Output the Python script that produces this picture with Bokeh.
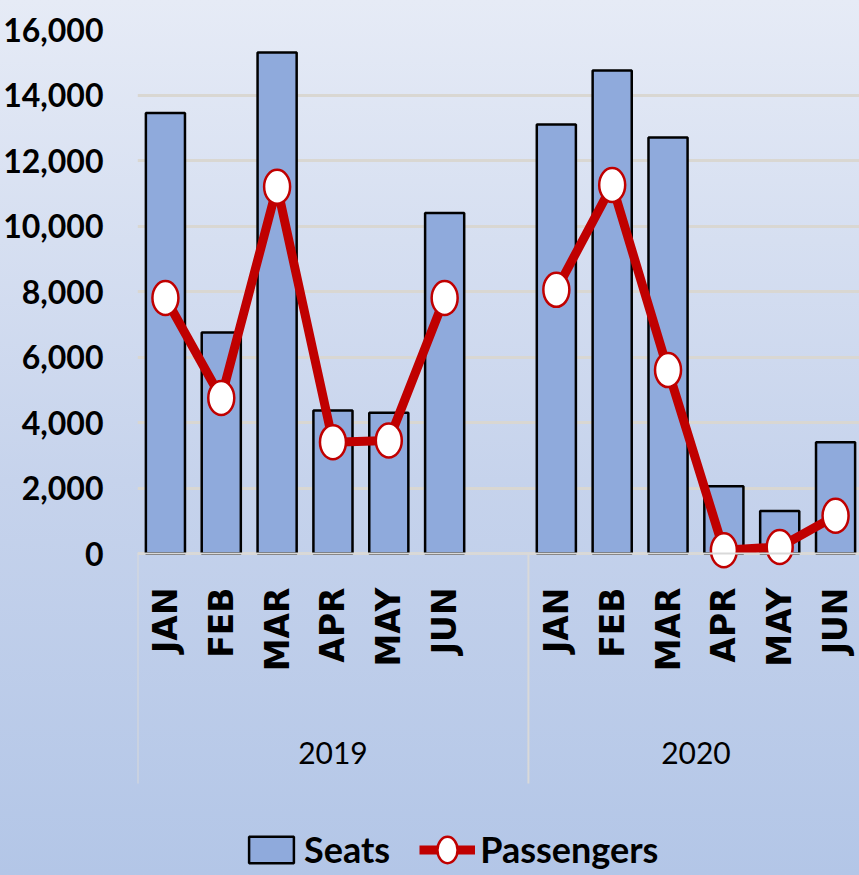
from math import pi
from bokeh.plotting import figure
from bokeh.models import (Range1d, LinearAxis, FixedTicker, NumeralTickFormatter,
                          Legend, LegendItem, Grid)
from bokeh.embed import file_html
from bokeh.resources import INLINE

# ---------------- data ----------------
years = ["2019", "2020"]
months = ["JAN", "FEB", "MAR", "APR", "MAY", "JUN"]
seats_2019 = [13450, 6750, 15300, 4370, 4300, 10400]
seats_2020 = [13100, 14750, 12700, 2050, 1300, 3400]
pax_2019 = [7800, 4750, 11200, 3400, 3450, 7800]
pax_2020 = [8050, 11250, 5600, 100, 200, 1150]
y_ticks = [0, 2000, 4000, 6000, 8000, 10000, 12000, 14000, 16000]

# ---------------- layout ----------------
W, H = 859, 875
FRAME_LEFT, FRAME_TOP, ZERO_PX, BOTTOM_PX = 135, 29, 553, H
SLOT_PX = 56.0
px_per_unit = (ZERO_PX - FRAME_TOP) / y_ticks[-1]


def y_at(pix):
    return (ZERO_PX - pix) / px_per_unit


slots_2019 = len(months) + 1          # blank slot after JUN 2019
x2019 = list(range(len(months)))
x2020 = [slots_2019 + i for i in range(len(months))]
xs = x2019 + x2020
group_edges = [-0.5, slots_2019 - 0.5, slots_2019 + len(months) - 0.5]
group_centers = [(group_edges[0] + group_edges[1]) / 2, (group_edges[1] + group_edges[2]) / 2]

x_end = -0.5 + (W - FRAME_LEFT) / SLOT_PX
p = figure(width=W, height=H, x_range=Range1d(-0.5, x_end),
           y_range=Range1d(y_at(BOTTOM_PX), y_ticks[-1]),
           x_axis_type=None, y_axis_type=None,
           toolbar_location=None, output_backend="svg",
           min_border_left=FRAME_LEFT, min_border_top=FRAME_TOP,
           min_border_bottom=0, min_border_right=0,
           styles={"background": "linear-gradient(to bottom, #E6EBF6 0%, #C6D3EC 55%, #B3C6E7 100%)"})
p.background_fill_alpha = 0
p.border_fill_alpha = 0
p.outline_line_color = None

LABEL_FONT = "Lato"

# y axis
yaxis = LinearAxis(ticker=FixedTicker(ticks=y_ticks),
                   formatter=NumeralTickFormatter(format="0,0"))
yaxis.axis_line_color = None
yaxis.major_tick_line_color = None
yaxis.minor_tick_line_color = None
yaxis.major_label_standoff = 28
yaxis.major_label_text_font = LABEL_FONT
yaxis.major_label_text_font_style = "bold"
yaxis.major_label_text_font_size = "32px"
yaxis.major_label_text_color = "black"
p.add_layout(yaxis, "left")

grid = Grid(dimension=1, ticker=FixedTicker(ticks=y_ticks),
            grid_line_color="#D9D7D2", grid_line_width=3)
p.add_layout(grid)

# category dividers
p.segment(x0=group_edges, x1=group_edges, y0=[0] * 3, y1=[y_at(783)] * 3,
          line_color="#D9D9D9", line_width=2)

# bars
bars = p.vbar(x=xs, top=seats_2019 + seats_2020, width=0.7, bottom=0,
              fill_color="#8FAADC", line_color="black", line_width=2.5)

# passengers lines + markers
lines = []
for xx, yy in ((x2019, pax_2019), (x2020, pax_2020)):
    lines.append(p.line(x=xx, y=yy, line_color="#C00000", line_width=9, line_join="round"))
marks = p.ellipse(x=xs, y=pax_2019 + pax_2020, width=26, height=34,
                  width_units="screen", height_units="screen",
                  fill_color="white", line_color="#C00000", line_width=2.5)

# month axis at y = 0
maxis = LinearAxis(fixed_location=0, ticker=FixedTicker(ticks=xs),
                   major_label_overrides={x: m for x, m in zip(xs, months + months)})
maxis.axis_line_color = "#D9D9D9"
maxis.axis_line_width = 2
maxis.major_tick_line_color = None
maxis.minor_tick_line_color = None
maxis.major_tick_out = 0
maxis.major_label_standoff = 34
maxis.major_label_orientation = pi / 2
maxis.major_label_text_font = "DejaVu Sans"
maxis.major_label_text_font_style = "bold"
maxis.major_label_text_font_size = "33px"
maxis.major_label_text_color = "black"
p.add_layout(maxis, "below")

# year axis
yrs = LinearAxis(fixed_location=y_at(741), ticker=FixedTicker(ticks=group_centers),
                 major_label_overrides={c: y for c, y in zip(group_centers, years)})
yrs.axis_line_color = None
yrs.major_tick_line_color = None
yrs.minor_tick_line_color = None
yrs.major_tick_out = 0
yrs.major_label_standoff = 0
yrs.major_label_text_font = LABEL_FONT
yrs.major_label_text_font_size = "30px"
yrs.major_label_text_color = "black"
p.add_layout(yrs, "below")

legend = Legend(items=[LegendItem(label="Seats", renderers=[bars]),
                       LegendItem(label="Passengers", renderers=[lines[0], marks])],
                location=(106, 4), orientation="horizontal",
                background_fill_alpha=0, border_line_alpha=0,
                padding=0, margin=0, spacing=29,
                glyph_width=56, glyph_height=33, label_standoff=5,
                label_text_font=LABEL_FONT, label_text_font_style="bold",
                label_text_font_size="36px", label_text_color="black")
p.add_layout(legend)

open("out.html", "w").write(file_html(p, INLINE))
